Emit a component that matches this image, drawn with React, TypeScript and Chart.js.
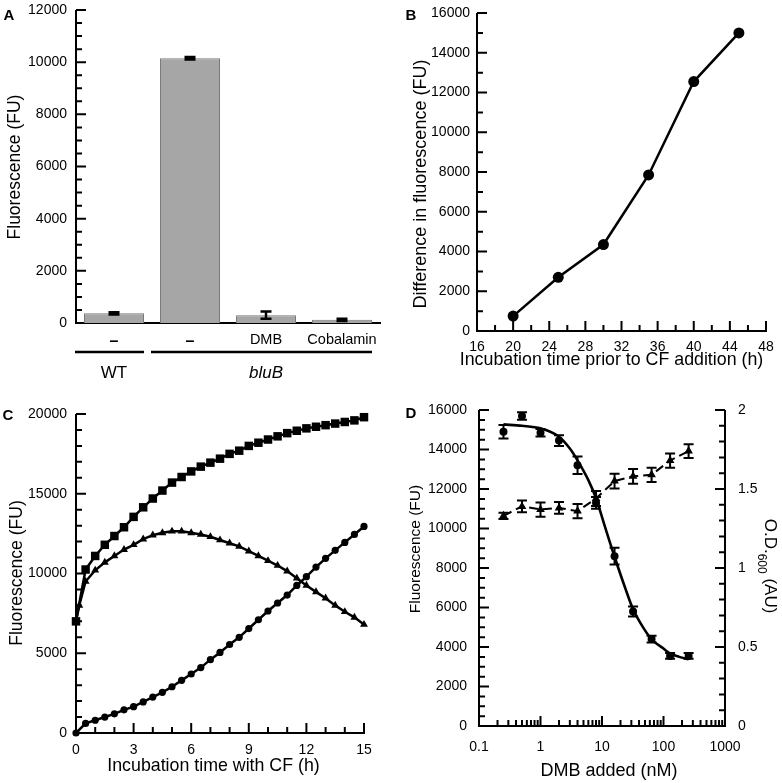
import React, { useEffect, useRef } from "react";
import { Chart, registerables } from "chart.js";

Chart.register(...registerables);

const FONT = "'Liberation Sans', Arial, Helvetica, sans-serif";

// ---------- Panel A ----------
const aCategories = ["–", "–", "DMB", "Cobalamin"];
const aValues = [370, 10150, 300, 120];
const aErrors = [45, 50, 140, 45];
const aGroupLabels = ["WT", "bluB"];
const aGroupFrom = [0, 1];
const aGroupTo = [0, 3];
const aYMax = 12000;
const aYStep = 2000;

// ---------- Panel B ----------
const bTimes = [20, 25, 30, 35, 40, 45];
const bDiff = [750, 2700, 4350, 7850, 12550, 15000];
const bXMin = 16;
const bXMax = 48;
const bXStep = 4;
const bYMax = 16000;
const bYStep = 2000;

// ---------- Panel C ----------
const cTimes = [0, 0.5, 1, 1.5, 2, 2.5, 3, 3.5, 4, 4.5, 5, 5.5, 6, 6.5, 7, 7.5, 8, 8.5, 9, 9.5, 10, 10.5, 11, 11.5, 12, 12.5, 13, 13.5, 14, 14.5, 15];
const cSquares = [7000, 10250, 11100, 11800, 12350, 12900, 13550, 14150, 14700, 15200, 15700, 16050, 16400, 16700, 16950, 17200, 17500, 17700, 18000, 18200, 18400, 18600, 18800, 18950, 19100, 19200, 19300, 19400, 19500, 19600, 19800];
const cTriTimes = [0, 0.17, 0.5, 1, 1.5, 2, 2.5, 3, 3.5, 4, 4.5, 5, 5.5, 6, 6.5, 7, 7.5, 8, 8.5, 9, 9.5, 10, 10.5, 11, 11.5, 12, 12.5, 13, 13.5, 14, 14.5, 15];
const cTriangles = [7000, 8000, 9500, 10200, 10700, 11100, 11500, 11800, 12150, 12400, 12550, 12650, 12650, 12550, 12450, 12300, 12100, 11900, 11700, 11400, 11100, 10800, 10500, 10150, 9700, 9250, 8850, 8450, 8000, 7600, 7250, 6800];
const cCircles = [0, 600, 800, 1000, 1200, 1450, 1650, 1950, 2250, 2550, 2900, 3300, 3700, 4100, 4600, 5050, 5550, 6000, 6550, 7100, 7650, 8150, 8650, 9250, 9800, 10400, 10950, 11450, 11950, 12450, 12950];
const cXMax = 15;
const cXStep = 3;
const cYMax = 20000;
const cYStep = 5000;

// ---------- Panel D ----------
const dDmb = [0.25, 0.5, 1, 2, 4, 8, 16, 32, 64, 128, 256];
const dFluor = [14900, 15700, 14850, 14450, 13200, 11300, 8600, 5800, 4400, 3550, 3550];
const dFluorErr = [340, 190, 190, 270, 440, 300, 420, 250, 170, 150, 150];
const dOd = [1.33, 1.39, 1.37, 1.38, 1.36, 1.44, 1.55, 1.58, 1.59, 1.68, 1.74];
const dOdErr = [0.02, 0.037, 0.045, 0.037, 0.045, 0.047, 0.047, 0.046, 0.045, 0.045, 0.044];
const dFitX = [0.25, 0.5, 1, 2, 3, 4, 6, 8, 11, 16, 24, 32, 48, 64, 100, 128, 180, 256];
const dFitY = [15270, 15200, 15070, 14650, 14050, 13450, 12450, 11530, 10160, 8570, 6960, 5910, 4930, 4390, 3920, 3670, 3500, 3380];
const dXTicks = [0.1, 1, 10, 100, 1000];
const dYMax = 16000;
const dYStep = 2000;
const dY2Max = 2;
const dY2Step = 0.5;

// ---------- helpers ----------
const tickFont = { family: FONT, size: 14 };

const fit = (size: number) => (s: any) => {
  if (s.isHorizontal()) s.height = size;
  else s.width = size;
  s.paddingLeft = 0;
  s.paddingRight = 0;
  s.paddingTop = 0;
  s.paddingBottom = 0;
};

function scale(extra: any, ticks: any) {
  return {
    grid: { display: false, drawTicks: false },
    border: { display: false },
    ...extra,
    ticks: { font: tickFont, color: "#000", maxRotation: 0, autoSkip: false, ...ticks },
  };
}

type AxisDeco = { id: string; side: "left" | "right" | "bottom"; step?: number; major?: number; log?: boolean; noTicks?: boolean };

function makeDeco(axes: AxisDeco[]) {
  return {
    id: "deco",
    beforeDatasetsDraw(chart: any) {
      const ctx = chart.ctx;
      const ca = chart.chartArea;
      ctx.save();
      ctx.strokeStyle = "#000";
      ctx.lineWidth = 2;
      for (const a of axes) {
        const s = chart.scales[a.id];
        ctx.beginPath();
        if (a.side === "bottom") {
          ctx.moveTo(ca.left - 1, ca.bottom);
          ctx.lineTo(ca.right + 1, ca.bottom);
        } else {
          const x = a.side === "left" ? ca.left : ca.right;
          ctx.moveTo(x, ca.top);
          ctx.lineTo(x, ca.bottom + 1);
        }
        ctx.stroke();
        if (a.noTicks) continue;
        const vals: [number, boolean][] = [];
        if (a.log) {
          for (let k = -1; k <= 2; k++) for (let m = 1; m <= 9; m++) vals.push([m * Math.pow(10, k), m === 1]);
          vals.push([1000, true]);
        } else {
          const n = Math.round((s.max - s.min) / (a.step as number));
          for (let i = 0; i <= n; i++) {
            const v = s.min + i * (a.step as number);
            const r = v / (a.major as number);
            vals.push([v, Math.abs(r - Math.round(r)) < 1e-6]);
          }
        }
        ctx.beginPath();
        for (const [v, maj] of vals) {
          const p = s.getPixelForValue(v);
          const len = maj ? 10 : 6;
          if (a.side === "bottom") {
            ctx.moveTo(p, ca.bottom);
            ctx.lineTo(p, ca.bottom - len);
          } else if (a.side === "left") {
            ctx.moveTo(ca.left, p);
            ctx.lineTo(ca.left + len, p);
          } else {
            ctx.moveTo(ca.right, p);
            ctx.lineTo(ca.right - len, p);
          }
        }
        ctx.stroke();
      }
      ctx.restore();
    },
  };
}

const errorBarPlugin = {
  id: "errbars",
  afterDatasetsDraw(chart: any) {
    const ctx = chart.ctx;
    chart.data.datasets.forEach((ds: any, i: number) => {
      if (!ds.errorBars) return;
      const meta = chart.getDatasetMeta(i);
      const ys = chart.scales[meta.yAxisID];
      ctx.save();
      ctx.strokeStyle = "#000";
      ctx.lineWidth = ds.errorBarWidth || 2;
      meta.data.forEach((el: any, j: number) => {
        const e = ds.errorBars[j];
        if (!e) return;
        const d = ds.data[j];
        const val = typeof d === "number" ? d : d.y;
        const y1 = ys.getPixelForValue(val + e);
        const y2 = ys.getPixelForValue(val - e);
        const x = el.x;
        const c = ds.errorCap || 5;
        ctx.beginPath();
        ctx.moveTo(x, y1);
        ctx.lineTo(x, y2);
        ctx.moveTo(x - c, y1);
        ctx.lineTo(x + c, y1);
        ctx.moveTo(x - c, y2);
        ctx.lineTo(x + c, y2);
        ctx.stroke();
      });
      ctx.restore();
    });
  },
};

type T = { text: string; x: number; y: number; size: number; bold?: boolean; italic?: boolean; rot?: number; align?: CanvasTextAlign };

function drawText(ctx: CanvasRenderingContext2D, t: T) {
  ctx.save();
  ctx.font = `${t.italic ? "italic " : ""}${t.bold ? "bold " : ""}${t.size}px ${FONT}`;
  ctx.fillStyle = "#000";
  ctx.textAlign = t.align || "center";
  ctx.textBaseline = "alphabetic";
  ctx.translate(t.x, t.y);
  if (t.rot) ctx.rotate(t.rot);
  ctx.fillText(t.text, 0, 0.358 * t.size);
  ctx.restore();
}

function makeTexts(fn: (chart: any) => T[], extra?: (chart: any) => void) {
  return {
    id: "texts",
    afterDraw(chart: any) {
      const ctx = chart.ctx;
      fn(chart).forEach((t) => drawText(ctx, t));
      if (extra) extra(chart);
    },
  };
}

const UP = -Math.PI / 2;

const base = (layoutPadding: any) => ({
  responsive: false,
  animation: false as const,
  events: [] as any[],
  layout: { padding: layoutPadding },
  plugins: { legend: { display: false }, tooltip: { enabled: false } },
});

// ---------- configs ----------
function configA(): any {
  return {
    type: "bar",
    data: {
      labels: aCategories,
      datasets: [
        {
          data: aValues,
          backgroundColor: "#a6a6a6",
          borderColor: "#7a7a7a",
          borderWidth: 1,
          barPercentage: 0.79,
          categoryPercentage: 1,
          errorBars: aErrors,
          errorCap: 5.5,
          errorBarWidth: 2.5,
        },
      ],
    },
    options: {
      ...base({ top: 10, right: 10, bottom: 0, left: 0 }),
      scales: {
        x: scale({ afterFit: fit(67) }, {
          padding: 8.6,
          font: (c: any) => ({ family: FONT, size: c.index < 2 ? 16 : 14.5, weight: c.index < 2 ? "bold" : "normal" }),
        }),
        y: scale({ min: 0, max: aYMax, afterFit: fit(76) }, { stepSize: aYStep, padding: 9, callback: (v: any) => String(v) }),
      },
    },
    plugins: [
      makeDeco([
        { id: "y", side: "left", step: 500, major: 2000 },
        { id: "x", side: "bottom", noTicks: true },
      ]),
      errorBarPlugin,
      makeTexts(
        (chart) => {
          const xs = chart.scales.x;
          const out: T[] = [
            { text: "A", x: 9, y: 15, size: 15, bold: true },
            { text: "Fluorescence (FU)", x: 14, y: 167, size: 17.5, rot: UP },
          ];
          aGroupLabels.forEach((g, i) => {
            const cx = (xs.getPixelForValue(aGroupFrom[i]) + xs.getPixelForValue(aGroupTo[i])) / 2;
            out.push({ text: g, x: cx, y: 372, size: 17, italic: i === 1 });
          });
          return out;
        },
        (chart) => {
          const ctx = chart.ctx;
          const xs = chart.scales.x;
          ctx.save();
          ctx.strokeStyle = "#000";
          ctx.lineWidth = 2.5;
          aGroupLabels.forEach((_, i) => {
            ctx.beginPath();
            ctx.moveTo(xs.getPixelForValue(aGroupFrom[i]) - 39, 352);
            ctx.lineTo(xs.getPixelForValue(aGroupTo[i]) + 30, 352);
            ctx.stroke();
          });
          ctx.restore();
        }
      ),
    ],
  };
}

function configB(): any {
  return {
    type: "scatter",
    data: {
      datasets: [
        {
          data: bTimes.map((t, i) => ({ x: t, y: bDiff[i] })),
          showLine: true,
          borderColor: "#000",
          borderWidth: 2.5,
          backgroundColor: "#000",
          pointBackgroundColor: "#000",
          pointBorderColor: "#000",
          pointRadius: 5.5,
          pointBorderWidth: 0,
          clip: false,
        },
      ],
    },
    options: {
      ...base({ top: 13, right: 16, bottom: 0, left: 0 }),
      scales: {
        x: scale({ type: "linear", min: bXMin, max: bXMax, afterFit: fit(59) }, { stepSize: bXStep, padding: 7.3, callback: (v: any) => String(v) }),
        y: scale({ min: 0, max: bYMax, afterFit: fit(87) }, { stepSize: bYStep, padding: 7, callback: (v: any) => String(v) }),
      },
    },
    plugins: [
      makeDeco([
        { id: "y", side: "left", step: 1000, major: 2000 },
        { id: "x", side: "bottom", step: 2, major: 4 },
      ]),
      makeTexts(() => [
        { text: "B", x: 21, y: 15, size: 15, bold: true },
        { text: "Difference in fluorescence (FU)", x: 29.5, y: 184, size: 18, rot: UP },
        { text: "Incubation time prior to CF addition (h)", x: 221.5, y: 358.5, size: 17.8 },
      ]),
    ],
  };
}

function configC(): any {
  const common = {
    showLine: true,
    borderColor: "#000",
    borderWidth: 2.5,
    backgroundColor: "#000",
    pointBackgroundColor: "#000",
    pointBorderColor: "#000",
    pointBorderWidth: 0,
    clip: false,
  };
  return {
    type: "scatter",
    data: {
      datasets: [
        { ...common, data: cTimes.map((t, i) => ({ x: t, y: cCircles[i] })), pointStyle: "circle", pointRadius: 3.6 },
        { ...common, data: cTriTimes.map((t, i) => ({ x: t, y: cTriangles[i] })), pointStyle: "triangle", pointRadius: 4.6 },
        { ...common, data: cTimes.map((t, i) => ({ x: t, y: cSquares[i] })), pointStyle: "rect", pointRadius: 6 },
      ],
    },
    options: {
      ...base({ top: 24, right: 26, bottom: 0, left: 0 }),
      scales: {
        x: scale({ type: "linear", min: 0, max: cXMax, afterFit: fit(50) }, { stepSize: cXStep, padding: 8.6, callback: (v: any) => String(v) }),
        y: scale({ min: 0, max: cYMax, afterFit: fit(76) }, { stepSize: cYStep, padding: 9, callback: (v: any) => String(v) }),
      },
    },
    plugins: [
      makeDeco([
        { id: "y", side: "left", step: 1000, major: 5000 },
        { id: "x", side: "bottom", step: 1, major: 3 },
      ]),
      makeTexts(() => [
        { text: "C", x: 8, y: 25, size: 15, bold: true },
        { text: "Fluorescence (FU)", x: 15.7, y: 183, size: 17.6, rot: UP },
        { text: "Incubation time with CF (h)", x: 213.5, y: 375, size: 17.8 },
      ]),
    ],
  };
}

function configD(): any {
  return {
    type: "scatter",
    data: {
      datasets: [
        {
          data: dFitX.map((x, i) => ({ x, y: dFitY[i] })),
          showLine: true,
          borderColor: "#000",
          borderWidth: 2.6,
          pointRadius: 0,
          cubicInterpolationMode: "monotone",
          yAxisID: "y",
        },
        {
          data: dDmb.map((x, i) => ({ x, y: dFluor[i] })),
          showLine: false,
          pointStyle: "circle",
          pointRadius: 4,
          pointBackgroundColor: "#000",
          pointBorderColor: "#000",
          pointBorderWidth: 0,
          errorBars: dFluorErr,
          errorCap: 5,
          errorBarWidth: 2,
          yAxisID: "y",
        },
        {
          data: dDmb.map((x, i) => ({ x, y: dOd[i] })),
          showLine: true,
          borderColor: "#000",
          borderWidth: 2,
          borderDash: [9, 5],
          pointStyle: "triangle",
          pointRadius: 5,
          pointBackgroundColor: "#000",
          pointBorderColor: "#000",
          pointBorderWidth: 0,
          errorBars: dOdErr,
          errorCap: 5,
          errorBarWidth: 2,
          yAxisID: "y2",
        },
      ],
    },
    options: {
      ...base({ top: 20, right: 0, bottom: 0, left: 0 }),
      scales: {
        x: scale(
          {
            type: "logarithmic",
            min: dXTicks[0],
            max: dXTicks[dXTicks.length - 1],
            afterFit: fit(57),
            afterBuildTicks: (s: any) => {
              s.ticks = dXTicks.map((v) => ({ value: v }));
            },
          },
          { padding: 12.6, callback: (v: any) => String(v) }
        ),
        y: scale({ min: 0, max: dYMax, position: "left", afterFit: fit(89) }, { stepSize: dYStep, padding: 12, callback: (v: any) => String(v) }),
        y2: scale({ min: 0, max: dY2Max, position: "right", afterFit: fit(57) }, { stepSize: dY2Step, padding: 13, callback: (v: any) => String(v) }),
      },
    },
    plugins: [
      makeDeco([
        { id: "y", side: "left", step: 500, major: 2000 },
        { id: "y2", side: "right", step: 0.1, major: 0.5 },
        { id: "x", side: "bottom", log: true },
      ]),
      errorBarPlugin,
      makeTexts(
        () => [
          { text: "D", x: 21, y: 23, size: 15, bold: true },
          { text: "Fluorescence (FU)", x: 24.5, y: 159, size: 15.5, rot: UP },
          { text: "DMB added (nM)", x: 219, y: 380, size: 18 },
        ],
        (chart) => {
          const ctx = chart.ctx;
          ctx.save();
          ctx.translate(381, 176);
          ctx.rotate(Math.PI / 2);
          const big = `17px ${FONT}`;
          const small = `12px ${FONT}`;
          ctx.font = big;
          const w1 = ctx.measureText("O.D.").width;
          const w3 = ctx.measureText(" (AU)").width;
          ctx.font = small;
          const w2 = ctx.measureText("600").width;
          let x = -(w1 + w2 + w3) / 2;
          const bl = 0.358 * 17;
          ctx.textAlign = "left";
          ctx.textBaseline = "alphabetic";
          ctx.fillStyle = "#000";
          ctx.font = big;
          ctx.fillText("O.D.", x, bl);
          x += w1;
          ctx.font = small;
          ctx.fillText("600", x, bl + 7);
          x += w2;
          ctx.font = big;
          ctx.fillText(" (AU)", x, bl);
          ctx.restore();
        }
      ),
    ],
  };
}

function Panel({ left, top, width, height, make }: { left: number; top: number; width: number; height: number; make: () => any }) {
  const ref = useRef<HTMLCanvasElement>(null);
  useEffect(() => {
    const chart = new Chart(ref.current as HTMLCanvasElement, make());
    return () => chart.destroy();
  }, []);
  return (
    <canvas
      ref={ref}
      width={width}
      height={height}
      style={{ position: "absolute", left, top, width, height, display: "block" }}
    />
  );
}

export default function App() {
  return (
    <div style={{ position: "absolute", left: 0, top: 0, width: 782, height: 783, background: "#fff", overflow: "hidden" }}>
      <Panel left={0} top={0} width={390} height={390} make={configA} />
      <Panel left={390} top={0} width={392} height={390} make={configB} />
      <Panel left={0} top={390} width={390} height={393} make={configC} />
      <Panel left={390} top={390} width={392} height={393} make={configD} />
    </div>
  );
}
